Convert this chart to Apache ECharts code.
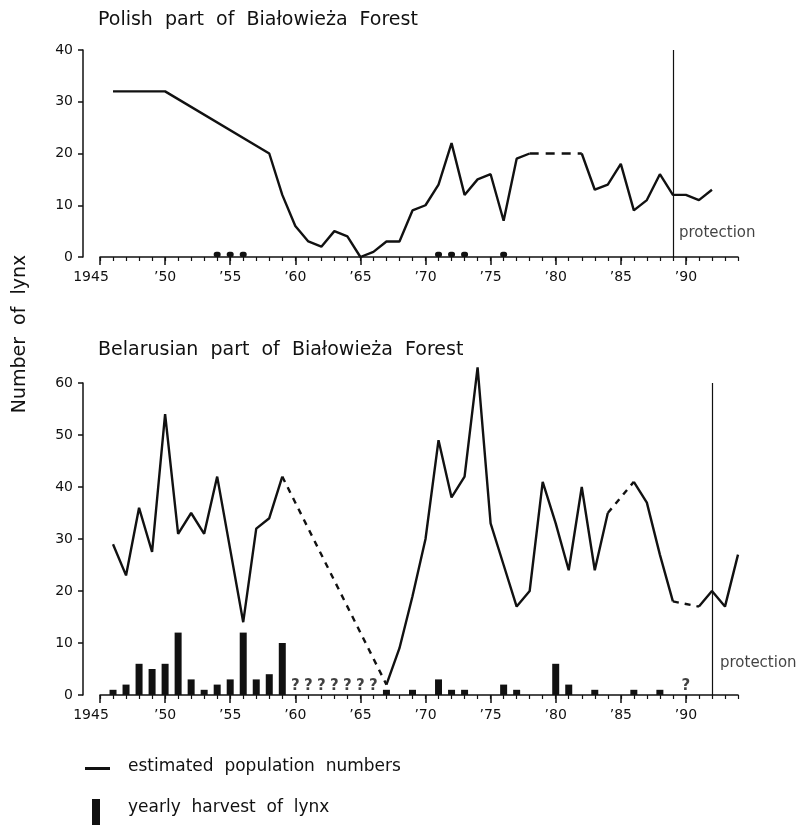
<!DOCTYPE html>
<html><head><meta charset="utf-8">
<script src="https://cdn.jsdelivr.net/npm/echarts@6/dist/echarts.min.js"></script>
<style>html,body{margin:0;padding:0;background:#fff}#c{width:799px;height:825px}</style>
</head><body><div id="c"></div>
<script>
// ---- tick labels ----
const xTickValues = [1945, 1950, 1955, 1960, 1965, 1970, 1975, 1980, 1985, 1990];
const xTickLabels = ['1945', '’50', '’55', '’60', '’65', '’70', '’75', '’80', '’85', '’90'];

// ---- Polish part ----
const polishYears = [1946, 1950, 1958, 1959, 1960, 1961, 1962, 1963, 1964, 1965, 1966, 1967, 1968, 1969, 1970, 1971, 1972, 1973, 1974, 1975, 1976, 1977, 1978, 1982, 1983, 1984, 1985, 1986, 1987, 1988, 1989, 1990, 1991, 1992];
const polishPop = [32, 32, 20, 12, 6, 3, 2, 5, 4, 0, 1, 3, 3, 9, 10, 14, 22, 12, 15, 16, 7, 19, 20, 20, 13, 14, 18, 9, 11, 16, 12, 12, 11, 13];
const polishEstimatedGaps = [[1978, 1982]];
const polishHarvestYears = [1954, 1955, 1956, 1971, 1972, 1973, 1976];
const polishHarvest = [1, 1, 1, 1, 1, 1, 1];
const polishProtectionYear = 1989;

// ---- Belarusian part ----
const belYears = [1946, 1947, 1948, 1949, 1950, 1951, 1952, 1953, 1954, 1955, 1956, 1957, 1958, 1959,
  1967, 1968, 1969, 1970, 1971, 1972, 1973, 1974, 1975, 1976, 1977, 1978, 1979, 1980, 1981, 1982, 1983, 1984,
  1986, 1987, 1988, 1989, 1991, 1992, 1993, 1994];
const belPop = [29, 23, 36, 27.5, 54, 31, 35, 31, 42, 28, 14, 32, 34, 42,
  2, 9, 19, 30, 49, 38, 42, 63, 33, 25, 17, 20, 41, 33, 24, 40, 24, 35,
  41, 37, 27, 18, 17, 20, 17, 27];
const belEstimatedGaps = [[1959, 1967], [1984, 1986], [1989, 1991]];
const belHarvestYears = [1946, 1947, 1948, 1949, 1950, 1951, 1952, 1953, 1954, 1955, 1956, 1957, 1958, 1959, 1967, 1969, 1971, 1972, 1973, 1976, 1977, 1980, 1981, 1983, 1986, 1988];
const belHarvest = [1, 2, 6, 5, 6, 12, 3, 1, 2, 3, 12, 3, 4, 10, 1, 1, 3, 1, 1, 2, 1, 6, 2, 1, 1, 1];
const belUnknownHarvestYears = [1960, 1961, 1962, 1963, 1964, 1965, 1966, 1990];
const belProtectionYear = 1992;

const INK = '#111';
const FONT = 'DejaVu Sans';

function isGap(gaps, a, b) { return gaps.some(g => g[0] === a && g[1] === b); }
function solidData(years, vals, gaps) {
  const out = [];
  for (let i = 0; i < years.length; i++) {
    out.push([years[i], vals[i]]);
    if (i < years.length - 1 && isGap(gaps, years[i], years[i + 1])) out.push([(years[i] + years[i + 1]) / 2, null]);
  }
  return out;
}
function dashedData(years, vals, gaps) {
  const out = [];
  gaps.forEach((g, k) => {
    const a = years.indexOf(g[0]), b = years.indexOf(g[1]);
    if (k > 0) out.push([(g[0] + gaps[k - 1][1]) / 2, null]);
    out.push([g[0], vals[a]]);
    out.push([g[1], vals[b]]);
  });
  return out;
}
function zip(xs, ys) { return xs.map((x, i) => [x, ys[i]]); }

function xAxes(gridIndex) {
  return [
    { gridIndex, type: 'value', position: 'bottom', min: 1945, max: 1994, interval: 1,
      axisLine: { show: true, onZero: false, lineStyle: { color: INK, width: 1.5 } },
      axisTick: { show: true, length: 4, lineStyle: { color: INK, width: 1.2 } },
      axisLabel: { show: false }, splitLine: { show: false } },
    { gridIndex, type: 'value', position: 'bottom', min: 1945, max: 1994,
      axisLine: { show: false },
      axisTick: { show: true, length: 8, customValues: xTickValues, lineStyle: { color: INK, width: 1.5 } },
      axisLabel: { show: true, customValues: xTickValues, margin: 13, color: INK, fontFamily: FONT, fontSize: 14,
        formatter: v => { const i = xTickValues.indexOf(v); const s = i >= 0 ? xTickLabels[i] : ''; return i === 0 ? '{s|' + s + '}' : s; },
        rich: { s: { padding: [0, 18, 0, 0], color: INK, fontFamily: FONT, fontSize: 14 } } },
      splitLine: { show: false } }
  ];
}
function yAxis(gridIndex, max) {
  return { gridIndex, type: 'value', min: 0, max, interval: 10, offset: 17,
    axisLine: { show: true, lineStyle: { color: INK, width: 1.5 } },
    axisTick: { show: true, length: 5, lineStyle: { color: INK, width: 1.5 } },
    axisLabel: { color: INK, fontFamily: FONT, fontSize: 14, margin: 10 },
    splitLine: { show: false } };
}
const lineBase = { type: 'line', symbol: 'none', connectNulls: false, silent: true, clip: false, z: 3 };

const option = {
  animation: false,
  backgroundColor: '#fff',
  grid: [
    { left: 100, top: 50, width: 638, height: 207 },
    { left: 100, top: 383, width: 638, height: 312 }
  ],
  xAxis: [...xAxes(0), ...xAxes(1)],
  yAxis: [yAxis(0, 40), yAxis(1, 60)],
  series: [
    Object.assign({}, lineBase, { name: 'estimated population numbers', xAxisIndex: 0, yAxisIndex: 0,
      data: solidData(polishYears, polishPop, polishEstimatedGaps), lineStyle: { color: INK, width: 2.4 },
      markLine: { silent: true, symbol: 'none', label: { show: false }, lineStyle: { color: INK, width: 1.2, type: 'solid' },
        data: [{ xAxis: polishProtectionYear }] } }),
    Object.assign({}, lineBase, { xAxisIndex: 0, yAxisIndex: 0,
      data: dashedData(polishYears, polishPop, polishEstimatedGaps), lineStyle: { color: INK, width: 2.4, type: [9, 7] } }),
    { type: 'bar', name: 'yearly harvest of lynx', xAxisIndex: 0, yAxisIndex: 0, barWidth: 7, silent: true,
      itemStyle: { color: INK, borderRadius: 3 }, data: zip(polishHarvestYears, polishHarvest) },
    { type: 'scatter', xAxisIndex: 0, yAxisIndex: 0, symbolSize: 0, silent: true,
      data: [[polishProtectionYear, 4.6]],
      label: { show: true, position: 'right', distance: 6, formatter: 'protection', color: INK, fontFamily: FONT, fontSize: 15 } },

    Object.assign({}, lineBase, { name: 'estimated population numbers', xAxisIndex: 2, yAxisIndex: 1,
      data: solidData(belYears, belPop, belEstimatedGaps), lineStyle: { color: INK, width: 2.4 },
      markLine: { silent: true, symbol: 'none', label: { show: false }, lineStyle: { color: INK, width: 1.2, type: 'solid' },
        data: [{ xAxis: belProtectionYear }] } }),
    Object.assign({}, lineBase, { xAxisIndex: 2, yAxisIndex: 1,
      data: dashedData(belYears, belPop, belEstimatedGaps), lineStyle: { color: INK, width: 2.4, type: [6, 6] } }),
    { type: 'bar', name: 'yearly harvest of lynx', xAxisIndex: 2, yAxisIndex: 1, barWidth: 7, silent: true,
      itemStyle: { color: INK }, data: zip(belHarvestYears, belHarvest) },
    { type: 'scatter', xAxisIndex: 2, yAxisIndex: 1, symbolSize: 0, silent: true,
      data: belUnknownHarvestYears.map(y => [y, 1.8]),
      label: { show: true, position: 'inside', formatter: '?', color: INK, fontFamily: FONT, fontSize: 15, fontWeight: 'bold' } },
    { type: 'scatter', xAxisIndex: 2, yAxisIndex: 1, symbolSize: 0, silent: true,
      data: [[belProtectionYear, 6.2]],
      label: { show: true, position: 'right', distance: 8, formatter: 'protection', color: INK, fontFamily: FONT, fontSize: 15 } }
  ],
  graphic: [
    { type: 'text', left: 98, top: 11, style: { text: 'Polish  part  of  Białowieża  Forest', fill: INK, font: '19px "DejaVu Sans"' } },
    { type: 'text', left: 98, top: 341, style: { text: 'Belarusian  part  of  Białowieża  Forest', fill: INK, font: '19px "DejaVu Sans"' } },
    { type: 'text', x: 20, y: 334, rotation: Math.PI / 2, style: { text: 'Number  of  lynx', fill: INK, font: '19px "DejaVu Sans"', align: 'center', verticalAlign: 'middle' } },
    { type: 'rect', shape: { x: 85, y: 767, width: 25, height: 3 }, style: { fill: INK } },
    { type: 'text', left: 128, top: 758, style: { text: 'estimated  population  numbers', fill: INK, font: '17px "DejaVu Sans"' } },
    { type: 'rect', shape: { x: 92, y: 799, width: 8, height: 26 }, style: { fill: INK } },
    { type: 'text', left: 128, top: 799, style: { text: 'yearly  harvest  of  lynx', fill: INK, font: '17px "DejaVu Sans"' } }
  ]
};
const chart = echarts.init(document.getElementById('c'), null, { renderer: 'canvas' });
chart.setOption(option);
</script></body></html>
